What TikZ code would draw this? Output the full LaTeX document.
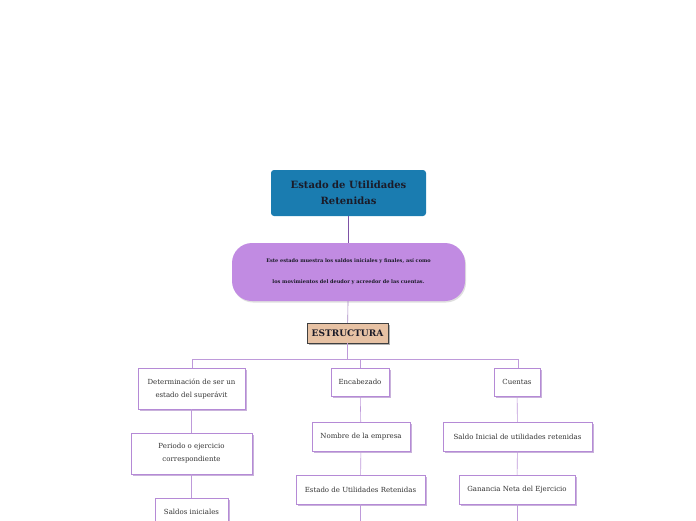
\documentclass[tikz,border=0pt]{standalone}
\usepackage{fontspec}
\setmainfont{DejaVu Serif}
\usetikzlibrary{shadows}
\definecolor{titleblue}{HTML}{1A7CB0}
\definecolor{descpurple}{HTML}{C18BE2}
\definecolor{estrtan}{HTML}{E7C2A4}
\definecolor{boxline}{HTML}{B58AD6}
\definecolor{boxshade}{HTML}{9466B8}
\definecolor{linkline}{HTML}{BE9ADA}
\definecolor{darkline}{HTML}{7E52A6}
\definecolor{inktext}{HTML}{1B1B28}

\tikzset{
  titlebox/.style={rectangle, rounded corners=3pt, fill=titleblue, text=inktext,
    minimum width=155pt, minimum height=46pt, align=center,
    font=\fontsize{10}{15.5}\selectfont\bfseries},
  descbox/.style={rectangle, rounded corners=20pt, fill=descpurple, text=inktext,
    minimum width=233pt, minimum height=58pt, align=center,
    drop shadow={shadow xshift=1pt, shadow yshift=-1.5pt, fill=black!25},
    font=\fontsize{5}{21}\selectfont\bfseries},
  estrbox/.style={rectangle, draw=black!75, fill=estrtan, text=inktext,
    minimum width=81pt, minimum height=20pt,
    drop shadow={shadow xshift=2pt, shadow yshift=-2pt, fill=black!60},
    font=\fontsize{9}{10}\selectfont\bfseries},
  itembox/.style={rectangle, draw=boxline, fill=white, text=black!80,
    align=center, inner sep=2pt,
    drop shadow={shadow xshift=2pt, shadow yshift=-2pt, fill=boxshade},
    font=\fontsize{7}{13}\selectfont},
  link/.style={draw=linkline, line width=0.6pt},
  toplink/.style={draw=darkline, line width=0.9pt}
}

\begin{document}
\begin{tikzpicture}[x=1pt, y=-1pt]
  \useasboundingbox (0,0) rectangle (696,520);
  \clip (0,0) rectangle (696,520);

  % cabecera
  \draw (348.5,193) node[titlebox] (title) {Estado de Utilidades\\ Retenidas};
  \draw (348.5,272) node[descbox] (desc) {Este estado muestra los saldos iniciales y finales, así como\\
    los movimientos del deudor y acreedor de las cuentas.};
  \draw (347.5,333) node[estrbox] (estr) {ESTRUCTURA};

  \draw[toplink] (title) -- (desc);
  \draw[link, draw=darkline!70] (desc) -- (estr);

  % ramas
  \coordinate (busL) at (192,359);
  \coordinate (busR) at (518,359);
  \draw[link] (estr) -- (estr |- busL);
  \draw[link] (busL) -- (busR);

  % columna izquierda
  \draw (191.5,388.5) node[itembox, minimum width=107pt, minimum height=41pt] (det) {Determinación de ser un\\ estado del superávit};
  \draw (191.5,453.5) node[itembox, minimum width=121pt, minimum height=41pt] (per) {Periodo o ejercicio\\ correspondiente};
  \draw (191.5,512) node[itembox, minimum width=73pt, minimum height=28pt] (sal) {Saldos iniciales};

  % columna central
  \draw (360,382) node[itembox, minimum width=58pt, minimum height=28pt] (enc) {Encabezado};
  \draw (361,436.5) node[itembox, minimum width=98pt, minimum height=29pt] (nom) {Nombre de la empresa};
  \draw (360.5,489.5) node[itembox, minimum width=129pt, minimum height=29pt] (ret) {Estado de Utilidades Retenidas};
  \coordinate (endC) at (361,521);

  % columna derecha
  \draw (517,382) node[itembox, minimum width=46pt, minimum height=28pt] (cue) {Cuentas};
  \draw (517.5,436.5) node[itembox, minimum width=149pt, minimum height=29pt] (ini) {Saldo Inicial de utilidades retenidas};
  \draw (517,489.5) node[itembox, minimum width=116pt, minimum height=29pt] (gan) {Ganancia Neta del Ejercicio};
  \coordinate (endR) at (518,521);

  \draw[link] (busL) -- (det.north -| busL);
  \draw[link] (enc) -- (enc |- busL);
  \draw[link] (busR) -- (cue.north -| busR);

  \draw[link] (det) -- (per);
  \draw[link] (per) -- (sal);
  \draw[link] (enc) -- (nom);
  \draw[link] (nom) -- (ret);
  \draw[link] (ret) -- (ret |- endC);
  \draw[link] (cue) -- (ini);
  \draw[link] (ini) -- (gan);
  \draw[link] (gan) -- (gan |- endR);
\end{tikzpicture}
\end{document}
